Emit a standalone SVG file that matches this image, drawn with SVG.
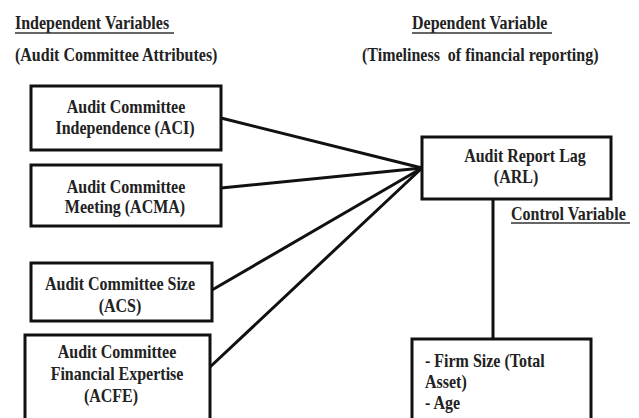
<svg xmlns="http://www.w3.org/2000/svg" width="639" height="418" viewBox="0 0 639 418">
  <style>
    .box { fill: #ffffff; stroke: #111111; stroke-width: 3; }
    .link { stroke: #111111; stroke-width: 3; fill: none; stroke-linecap: round; }
    .uline { stroke: #333333; stroke-width: 1.5; }
  </style>
  <rect width="639" height="418" fill="#ffffff"/>

  <!-- column headings -->
  <g id="heading-independent">
    <text transform="translate(15 29) scale(1 1.2)" style="font-family:'Liberation Serif',serif;font-weight:bold;font-size:16px;fill:#222">Independent Variables</text>
    <line class="uline" x1="15" y1="33" x2="174" y2="33"/>
    <text transform="translate(15 61) scale(1 1.2)" style="font-family:'Liberation Serif',serif;font-weight:bold;font-size:16px;fill:#222">(Audit Committee Attributes)</text>
  </g>
  <g id="heading-dependent">
    <text transform="translate(412 29) scale(1 1.2)" style="font-family:'Liberation Serif',serif;font-weight:bold;font-size:16px;fill:#222">Dependent Variable</text>
    <line class="uline" x1="412" y1="33" x2="552" y2="33"/>
    <text transform="translate(362 61) scale(1 1.2)" style="font-family:'Liberation Serif',serif;font-weight:bold;font-size:16px;fill:#222">(Timeliness&#160; of financial reporting)</text>
  </g>

  <!-- connectors -->
  <g id="connectors">
    <line class="link" x1="221" y1="118" x2="422" y2="168"/>
    <line class="link" x1="221" y1="188" x2="422" y2="168"/>
    <line class="link" x1="212" y1="290" x2="422" y2="168"/>
    <line class="link" x1="210" y1="367" x2="422" y2="168"/>
    <line class="link" x1="493" y1="199" x2="493" y2="339"/>
  </g>

  <!-- independent variables -->
  <g id="aci">
    <rect class="box" x="31" y="86" width="190" height="64"/>
    <text transform="translate(126 113) scale(1 1.2)" style="font-family:'Liberation Serif',serif;font-weight:bold;font-size:16px;fill:#222;text-anchor:middle">Audit Committee</text>
    <text transform="translate(125 134) scale(1 1.2)" style="font-family:'Liberation Serif',serif;font-weight:bold;font-size:16px;fill:#222;text-anchor:middle">Independence (ACI)</text>
  </g>
  <g id="acma">
    <rect class="box" x="31" y="165" width="190" height="61"/>
    <text transform="translate(126 193) scale(1 1.2)" style="font-family:'Liberation Serif',serif;font-weight:bold;font-size:16px;fill:#222;text-anchor:middle">Audit Committee</text>
    <text transform="translate(125 213) scale(1 1.2)" style="font-family:'Liberation Serif',serif;font-weight:bold;font-size:16px;fill:#222;text-anchor:middle">Meeting (ACMA)</text>
  </g>
  <g id="acs">
    <rect class="box" x="31" y="263" width="181" height="58"/>
    <text transform="translate(120 290) scale(1 1.2)" style="font-family:'Liberation Serif',serif;font-weight:bold;font-size:16px;fill:#222;text-anchor:middle">Audit Committee Size</text>
    <text transform="translate(120 312) scale(1 1.2)" style="font-family:'Liberation Serif',serif;font-weight:bold;font-size:16px;fill:#222;text-anchor:middle">(ACS)</text>
  </g>
  <g id="acfe">
    <rect class="box" x="25" y="335" width="185" height="90"/>
    <text transform="translate(117 358) scale(1 1.2)" style="font-family:'Liberation Serif',serif;font-weight:bold;font-size:16px;fill:#222;text-anchor:middle">Audit Committee</text>
    <text transform="translate(117 380) scale(1 1.2)" style="font-family:'Liberation Serif',serif;font-weight:bold;font-size:16px;fill:#222;text-anchor:middle">Financial Expertise</text>
    <text transform="translate(111 402) scale(1 1.2)" style="font-family:'Liberation Serif',serif;font-weight:bold;font-size:16px;fill:#222;text-anchor:middle">(ACFE)</text>
  </g>

  <!-- dependent variable -->
  <g id="arl">
    <rect class="box" x="422" y="137" width="189" height="62"/>
    <text transform="translate(525 162) scale(1 1.2)" style="font-family:'Liberation Serif',serif;font-weight:bold;font-size:16px;fill:#222;text-anchor:middle">Audit Report Lag</text>
    <text transform="translate(516 183) scale(1 1.2)" style="font-family:'Liberation Serif',serif;font-weight:bold;font-size:16px;fill:#222;text-anchor:middle">(ARL)</text>
  </g>

  <!-- control variables -->
  <g id="control-label">
    <text transform="translate(511 220) scale(1 1.2)" style="font-family:'Liberation Serif',serif;font-weight:bold;font-size:16px;fill:#222">Control Variable</text>
    <line class="uline" x1="511" y1="223" x2="630" y2="223"/>
  </g>
  <g id="control">
    <rect class="box" x="412" y="339" width="179" height="90"/>
    <text transform="translate(425 367) scale(1 1.2)" style="font-family:'Liberation Serif',serif;font-weight:bold;font-size:16px;fill:#222">- Firm Size (Total</text>
    <text transform="translate(425 388) scale(1 1.2)" style="font-family:'Liberation Serif',serif;font-weight:bold;font-size:16px;fill:#222">Asset)</text>
    <text transform="translate(425 409) scale(1 1.2)" style="font-family:'Liberation Serif',serif;font-weight:bold;font-size:16px;fill:#222">- Age</text>
  </g>
</svg>
